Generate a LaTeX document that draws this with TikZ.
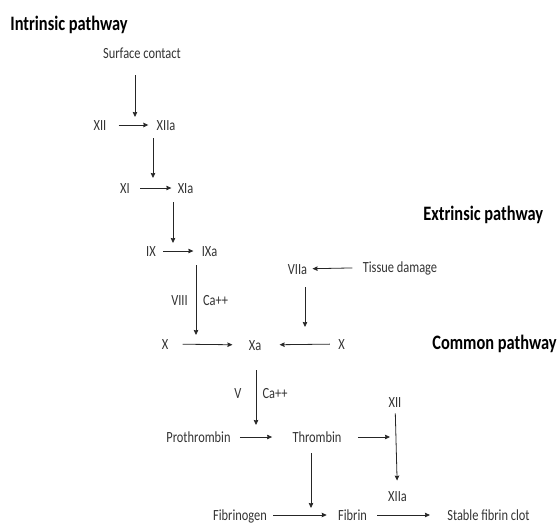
\documentclass[tikz,border=0pt]{standalone}
\usepackage{fontspec}
\setmainfont{Carlito}[FakeStretch=0.8]
\usetikzlibrary{arrows.meta}
\begin{document}
\begin{tikzpicture}[x=1pt,y=-1pt,>={Stealth[length=5pt,width=4.5pt,inset=0.5pt]},line width=0.8pt,font=\fontsize{15.5}{18}\selectfont,
		lbl/.style={text=black!80,inner sep=0pt,text height=10pt,text depth=0pt},
		head/.style={font=\fontsize{20.5}{24}\selectfont\bfseries,anchor=west,inner sep=0pt,text height=13.5pt,text depth=0pt},
		ar/.style={->,black!85}]
				\useasboundingbox (0,0) rectangle (559,523);
				% titles
				\node[head] (intr) at (10,24) {Intrinsic pathway};
				\node[head] (extr) at (423,214) {Extrinsic pathway};
				\node[head] (comm) at (432,343) {Common pathway};
				% intrinsic
				\node[lbl] (sc) at (142,53) {Surface contact};
				\node[lbl] (xii) at (100,125) {XII};
				\node[lbl] (xiia) at (166,125) {XIIa};
				\node[lbl] (xi) at (125,188) {XI};
				\node[lbl] (xia) at (185.5,188) {XIa};
				\node[lbl] (ix) at (151,251) {IX};
				\node[lbl] (ixa) at (209.5,251) {IXa};
				\node[lbl] (viii) at (179.5,300) {VIII};
				\node[lbl] (caa) at (215.5,300) {Ca++};
				% extrinsic
				\node[lbl] (viia) at (297.5,269) {VIIa};
				\node[lbl] (tis) at (400,267) {Tissue damage};
				% common
				\node[lbl] (xl) at (165,344) {X};
				\node[lbl] (xa) at (255,345) {Xa};
				\node[lbl] (xr) at (341.5,344) {X};
				\node[lbl] (v) at (238,393) {V};
				\node[lbl] (cab) at (275,393) {Ca++};
				\node[lbl] (pro) at (198.5,437) {Prothrombin};
				\node[lbl] (thr) at (317,437) {Thrombin};
				\node[lbl] (xiib) at (395,402) {XII};
				\node[lbl] (xiiab) at (397.5,496) {XIIa};
				\node[lbl] (fbg) at (240,515) {Fibrinogen};
				\node[lbl] (fib) at (352.5,515) {Fibrin};
				\node[lbl] (clot) at (488.5,515) {Stable fibrin clot};
				% free arrow ends
				\coordinate (j1) at (135,117);
				\coordinate (j2) at (153,178);
				\coordinate (j3) at (173,243);
				\coordinate (j4) at (196,335);
				\coordinate (j5) at (305,327);
				\coordinate (j6) at (256,425);
				\coordinate (j7) at (311,508);
				\coordinate (j9) at (390,437);
				% horizontal arrows
				\draw[ar,shorten <=12pt,shorten >=8pt] (xii) -- (xiia);
				\draw[ar,shorten <=10pt,shorten >=6pt] (xi) -- (xia);
				\draw[ar,shorten <=7pt,shorten >=8pt] (ix) -- (ixa);
				\draw[ar,shorten <=10pt,shorten >=5pt] (tis) -- (viia);
				\draw[ar,shorten <=14pt,shorten >=16pt] (xl) -- (xa);
				\draw[ar,shorten <=8pt,shorten >=18pt] (xr) -- (xa);
				\draw[ar,shorten <=9pt,shorten >=20pt] (pro) -- (thr);
				\draw[ar,shorten <=16pt] (thr) -- (j9);
				\draw[ar,shorten <=6pt,shorten >=11pt] (fbg) -- (fib);
				\draw[ar,shorten <=10pt,shorten >=17pt] (fib) -- (clot);
				% vertical arrows
				\draw[ar,shorten <=17pt] (j1 |- sc.south) -- (j1);
				\draw[ar,shorten <=8pt] (j2 |- xiia.south) -- (j2);
				\draw[ar,shorten <=9pt] (j3 |- xia.south) -- (j3);
				\draw[ar,shorten <=9pt] (j4 |- ixa.south) -- (j4);
				\draw[ar,shorten <=13pt] (j5 |- viia.south) -- (j5);
				\draw[ar,shorten <=20pt] (j6 |- xa.south) -- (j6);
				\draw[ar,shorten <=11pt] (j7 |- thr.south) -- (j7);
				\draw[ar,shorten <=6pt,shorten >=10pt] (xiib) -- (xiiab);
			\end{tikzpicture}
\end{document}
